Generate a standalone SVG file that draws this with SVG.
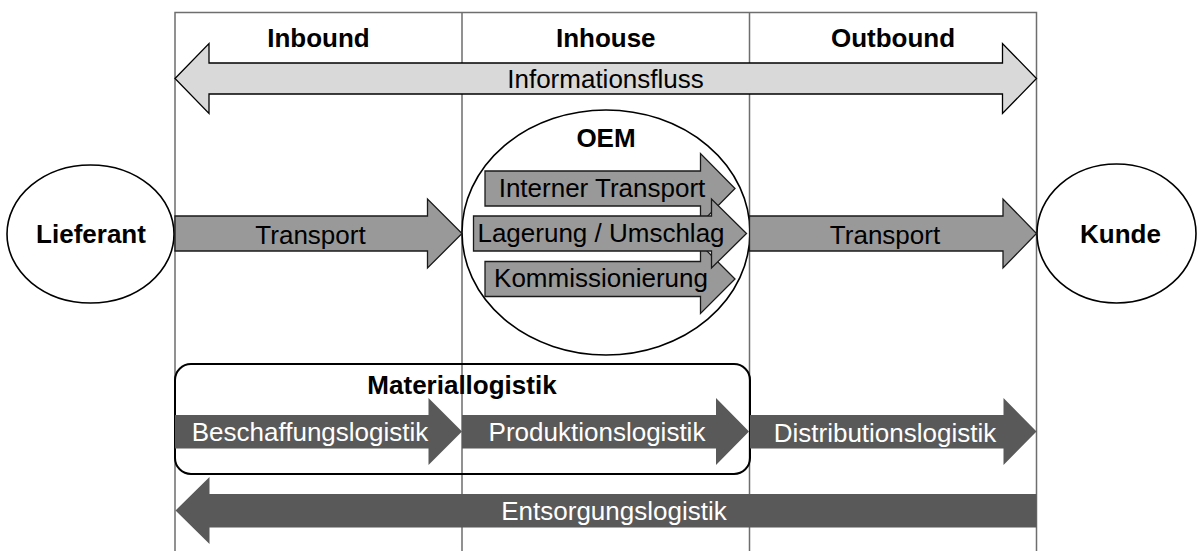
<svg xmlns="http://www.w3.org/2000/svg" width="1197" height="551" viewBox="0 0 1197 551">
<style>
.grid{stroke:#6e6e6e;stroke-width:1.5;fill:none}
.t{font-family:"Liberation Sans",Arial,sans-serif;font-size:26px;text-anchor:middle}
.b{font-weight:bold;fill:#000}
.dk{fill:#000}
.wt{fill:#fff}
.light{fill:#d9d9d9;stroke:#000;stroke-width:1.3;stroke-linejoin:miter}
.mid{fill:#999;stroke:#1a1a1a;stroke-width:1.3;stroke-linejoin:miter}
.dark{fill:#595959;stroke:none}
.node{fill:#fff;stroke:#000;stroke-width:1.6}
</style>
<rect width="1197" height="551" fill="#fff"/>
<g id="grid">
<path class="grid" d="M175,551 V12.5 H1036.5 V551 M462,12.5 V551 M749.5,12.5 V551"/>
<text class="t b" x="318.5" y="46.5">Inbound</text>
<text class="t b" x="605.75" y="46.5">Inhouse</text>
<text class="t b" x="893" y="46.5">Outbound</text>
</g>
<g id="lieferant">
<ellipse class="node" cx="90.5" cy="234" rx="83.5" ry="69"/>
<text class="t b" x="91" y="243">Lieferant</text>
</g>
<g id="kunde">
<ellipse class="node" cx="1116.5" cy="233.5" rx="79.5" ry="69.5"/>
<text class="t b" x="1120.5" y="243">Kunde</text>
</g>
<g id="oem">
<ellipse class="node" cx="606" cy="232.5" rx="144" ry="122.5"/>
<text class="t b" x="606" y="147">OEM</text>
</g>
<g id="materiallogistik">
<rect x="175" y="364" width="575" height="110" rx="16" fill="none" stroke="#000" stroke-width="2"/>
<text class="t b" x="462" y="394">Materiallogistik</text>
</g>
<g id="connectors">
<polygon class="light" points="175,78.5 209,43.5 209,63 1002.5,63 1002.5,43.5 1036.5,78.5 1002.5,113.5 1002.5,94 209,94 209,113.5"/>
<text class="t dk" x="605.5" y="88">Informationsfluss</text>
<polygon class="mid" points="175,216 427.5,216 427.5,199 462,233.5 427.5,268 427.5,251 175,251"/>
<text class="t dk" x="310.5" y="244">Transport</text>
<polygon class="mid" points="749.5,216 1003,216 1003,199 1036.5,233.5 1003,268 1003,251 749.5,251"/>
<text class="t dk" x="885" y="244">Transport</text>
<polygon class="mid" points="485,171 700.5,171 700.5,153.5 735,188.5 700.5,223.5 700.5,206 485,206"/>
<polygon class="mid" points="485,261.5 700.5,261.5 700.5,244.5 735,279 700.5,313.5 700.5,296.5 485,296.5"/>
<polygon class="mid" points="473.5,216 711.5,216 711.5,199 746.5,233.5 711.5,268 711.5,251 473.5,251"/>
<text class="t dk" x="602" y="197">Interner Transport</text>
<text class="t dk" x="601" y="241.5">Lagerung / Umschlag</text>
<text class="t dk" x="601" y="286.5">Kommissionierung</text>
<polygon class="dark" points="175,415 428.5,415 428.5,398 462,431.5 428.5,465 428.5,448.5 175,448.5"/>
<text class="t wt" x="310" y="441">Beschaffungslogistik</text>
<polygon class="dark" points="462,415 716,415 716,398 749,431.5 716,465 716,448.5 462,448.5"/>
<text class="t wt" x="597" y="441">Produktionslogistik</text>
<polygon class="dark" points="750,415 1003.5,415 1003.5,398 1036.5,431.5 1003.5,465 1003.5,448.5 750,448.5"/>
<text class="t wt" x="885" y="441.5">Distributionslogistik</text>
<polygon class="dark" points="175.5,510.5 209.5,477 209.5,494 1036.5,494 1036.5,527.5 209.5,527.5 209.5,544"/>
<text class="t wt" x="614" y="520">Entsorgungslogistik</text>
</g>
</svg>
